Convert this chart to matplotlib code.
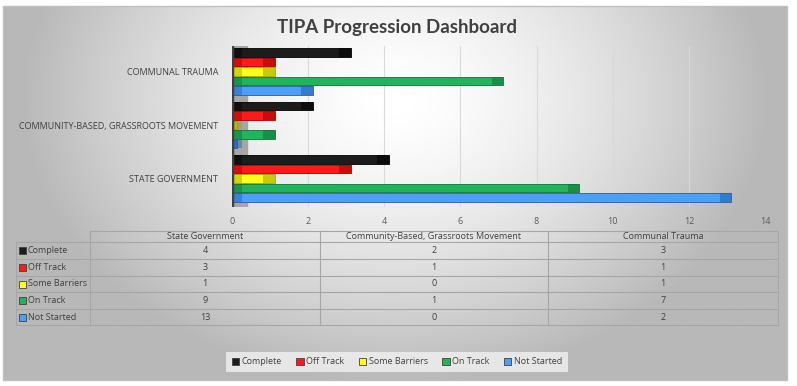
import numpy as np
import matplotlib.pyplot as plt
from matplotlib.patches import Rectangle, Patch

plt.rcParams['font.family'] = ['Open Sans', 'DejaVu Sans']

# datos
categorias = ['State Government', 'Community-Based, Grassroots Movement', 'Communal Trauma']
series = ['Complete', 'Off Track', 'Some Barriers', 'On Track', 'Not Started']
valores = {
    'Complete':      [4, 2, 3],
    'Off Track':     [3, 1, 1],
    'Some Barriers': [1, 0, 1],
    'On Track':      [9, 1, 7],
    'Not Started':   [13, 0, 2],
}
colores = ['#1c1c1c', '#ff1a1a', '#ffff1a', '#22b35c', '#4d9ff5']
bordes = ['#000000', '#a00000', '#a0a000', '#13703a', '#1f5fb0']
x_ticks = [0, 2, 4, 6, 8, 10, 12, 14]

W, H = 797, 386
fig = plt.figure(figsize=(W / 100, H / 100), dpi=100)

# fondo con degradado
bg = fig.add_axes([0, 0, 1, 1])
bg.set_xlim(0, W)
bg.set_ylim(H, 0)
bg.axis('off')
xx, yy = np.meshgrid(np.linspace(-1, 1, 400), np.linspace(-1, 1, 200))
dist = np.sqrt((xx / 1.0) ** 2 + ((yy + 0.5) / 1.6) ** 2)
grad = np.clip(1 - 0.3 * dist ** 1.5, 0.72, 1)
bg.imshow(grad, cmap='gray', vmin=0, vmax=1, extent=(3, 787, 380, 6), aspect='auto', zorder=0)
bg.add_patch(Rectangle((3, 6), 784, 374, fill=False, ec='#bfbfbf', lw=1, zorder=1))

# titulo
bg.text(397, 28, 'TIPA Progression Dashboard', fontsize=13.5, fontweight='bold',
        family=['Lato', 'DejaVu Sans'], color='#404040', ha='center', va='center')

# grafico de barras
ax = fig.add_axes([232 / W, 1 - 207 / H, (765 - 232) / W, (207 - 46) / H])
ax.patch.set_alpha(0)
ax.set_xlim(0, 14)
ax.set_ylim(-0.533, 2.477)
paso = 0.178
alto = 0.165
y = np.arange(len(categorias))
for i, s in enumerate(series):
    pos = y + (2 - i) * paso
    v = np.array(valores[s], dtype=float)
    ax.barh(pos, v + 0.12, height=alto, color=colores[i], edgecolor=bordes[i], lw=0.6, zorder=3)
    ax.barh(pos, 0.3, left=v - 0.18, height=alto, color=bordes[i], alpha=0.55, lw=0, zorder=4)
    ax.barh(pos, 0.25, left=0, height=alto, color=bordes[i], alpha=0.45, lw=0, zorder=4)

ax.axvspan(0, 0.4, ymin=0, ymax=1, color='#a6a6a6', zorder=2)
ax.axvline(0, color='#404040', lw=2.5, zorder=5)
ax.set_xticks(x_ticks)
ax.grid(axis='x', color='#d9d9d9', lw=0.8, zorder=1)
ax.set_yticks(y)
ax.set_yticklabels([c.upper() for c in categorias])
ax.tick_params(axis='y', length=0, pad=10, labelsize=6.5, labelcolor='#404040')
ax.tick_params(axis='x', length=0, pad=7, labelsize=6.5, labelcolor='#595959')
for sp in ax.spines.values():
    sp.set_visible(False)

# tabla de datos
col_x = [90, 320, 548, 778]
fila_y = [231, 242, 259, 276, 292, 309, 325]
lc = '#a6a6a6'
bg.plot([col_x[0], col_x[-1]], [fila_y[0], fila_y[0]], color=lc, lw=0.8)
for yl in fila_y[1:]:
    bg.plot([16, col_x[-1]], [yl, yl], color=lc, lw=0.8)
bg.plot([16, 16], [fila_y[1], fila_y[-1]], color=lc, lw=0.8)
for xl in col_x:
    bg.plot([xl, xl], [fila_y[0], fila_y[-1]], color=lc, lw=0.8)
for j, c in enumerate(categorias):
    bg.text((col_x[j] + col_x[j + 1]) / 2, (fila_y[0] + fila_y[1]) / 2, c,
            fontsize=6.5, color='#404040', ha='center', va='center')
for i, s in enumerate(series):
    yc = (fila_y[i + 1] + fila_y[i + 2]) / 2
    bg.add_patch(Rectangle((19, yc - 3.5), 7, 7, fc=colores[i], ec='#404040', lw=0.6))
    bg.text(28, yc, s, fontsize=6.5, color='#404040', ha='left', va='center')
    for j in range(len(categorias)):
        bg.text((col_x[j] + col_x[j + 1]) / 2, yc, str(valores[s][j]),
                fontsize=6.5, color='#404040', ha='center', va='center')

# leyenda
handles = [Patch(fc=colores[i], ec='#404040', lw=0.6, label=s) for i, s in enumerate(series)]
leg = fig.legend(handles=handles, loc='center', bbox_to_anchor=(397 / W, 1 - 362 / H),
                 ncol=5, fontsize=6.5, frameon=True, handlelength=0.8, handleheight=0.8,
                 handletextpad=0.3, columnspacing=1.6, borderpad=0.6)
leg.get_frame().set_facecolor('#f2f2f2')
leg.get_frame().set_edgecolor('none')
leg.get_frame().set_boxstyle('square', pad=0)
for t in leg.get_texts():
    t.set_color('#404040')

fig.savefig('out.png', dpi=100)
